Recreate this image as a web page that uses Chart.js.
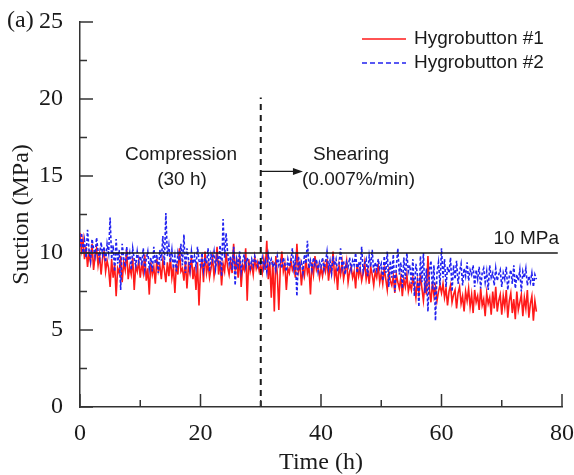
<!DOCTYPE html>
<html>
<head>
<meta charset="utf-8">
<script src="https://cdn.jsdelivr.net/npm/chart.js@4/dist/chart.umd.min.js"></script>
<style>
  html, body { margin: 0; padding: 0; background: #fff; }
  #wrap { width: 574px; height: 475px; }
</style>
</head>
<body>
<div id="wrap"><canvas id="chart" width="574" height="475"></canvas></div>
<script>
// sampling interval of the logged readings (h)
const timeStep = 0.25;

// Hygrobutton #1 suction (MPa), every 0.25 h from 0 h (one line = 5 h)
const hygro1 = [
    11.3, 10.2, 10.9, 9.6, 10.4, 9.1, 10.0, 9.4, 10.6, 8.9, 9.8, 10.3, 9.2, 9.9, 8.6, 9.7, 10.1, 8.8, 9.5, 9.0,
    7.8, 9.6, 8.4, 9.3, 7.2, 9.0, 8.7, 9.8, 8.1, 9.4, 8.9, 10.2, 8.3, 9.1, 8.6, 9.7, 7.6, 9.2, 8.8, 9.5,
    8.4, 9.3, 8.7, 9.9, 8.2, 9.0, 7.3, 9.4, 8.6, 9.1, 8.0, 9.6, 8.8, 9.2, 8.3, 9.5, 8.9, 8.1, 9.4, 8.5,
    9.7, 8.4, 9.1, 7.4, 9.3, 8.6, 10.3, 8.8, 9.0, 8.2, 9.5, 7.7, 9.2, 8.7, 9.8, 8.3, 9.1, 7.6, 9.4, 6.6,
    8.9, 9.6, 8.1, 10.1, 8.7, 9.3, 8.4, 9.0, 9.7, 8.5, 9.2, 10.4, 8.6, 9.5, 7.9, 9.3, 8.8, 10.0, 9.1, 8.6,
    9.4, 8.7, 10.6, 8.9, 9.5, 8.4, 9.8, 7.8, 9.2, 8.9, 10.3, 6.9, 9.6, 8.8, 9.3, 8.6, 9.7, 9.0, 9.4, 8.8,
    9.2, 8.7, 9.6, 8.9, 10.8, 8.3, 9.4, 7.1, 9.5, 6.2, 9.8, 8.6, 6.3, 9.1, 10.1, 8.8, 9.3, 7.6, 9.0, 8.7,
    9.5, 8.9, 9.2, 8.4, 10.6, 8.8, 9.3, 7.9, 9.0, 8.5, 9.6, 8.7, 9.1, 7.3, 9.4, 8.6, 9.8, 8.9, 9.2, 8.4,
    9.0, 8.5, 9.3, 8.8, 9.6, 8.2, 9.1, 8.7, 10.1, 8.4, 9.0, 7.6, 9.2, 8.6, 9.4, 8.3, 8.9, 9.5, 8.1, 8.8,
    9.1, 8.4, 8.8, 7.7, 9.3, 8.5, 9.0, 8.2, 8.7, 9.4, 8.3, 8.9, 8.0, 9.1, 8.6, 7.9, 8.8, 8.4, 9.2, 8.1,
    8.7, 8.0, 9.0, 8.3, 7.6, 8.8, 8.2, 7.9, 8.5, 7.4, 8.6, 8.1, 7.7, 8.4, 7.2, 8.3, 7.8, 8.6, 7.5, 8.0,
    7.6, 8.4, 7.9, 7.1, 8.2, 7.4, 8.6, 7.7, 6.9, 8.0, 7.3, 9.8, 7.6, 6.8, 8.1, 7.2, 7.8, 6.9, 7.5, 7.9,
    7.4, 8.0, 7.1, 7.7, 6.6, 7.5, 7.9, 6.8, 7.3, 7.6, 6.4, 7.4, 7.8, 6.7, 7.2, 6.2, 7.5, 6.9, 7.7, 6.5,
    7.3, 6.1, 7.6, 6.8, 7.2, 6.3, 7.7, 6.6, 7.0, 5.9, 7.4, 6.7, 7.1, 6.0, 7.5, 6.4, 7.8, 6.2, 6.9, 7.3,
    6.0, 7.2, 6.5, 7.6, 5.8, 6.9, 7.4, 6.1, 7.0, 5.7, 7.5, 6.3, 6.8, 7.3, 5.9, 7.1, 6.4, 7.6, 5.8, 6.7,
    7.2, 5.6, 6.9, 6.2
];

// Hygrobutton #2 suction (MPa), every 0.25 h from 0 h (one line = 5 h)
const hygro2 = [
    10.4, 11.3, 10.0, 10.8, 9.7, 11.5, 10.2, 9.5, 10.9, 10.3, 9.8, 11.0, 10.1, 9.6, 10.7, 9.9, 10.4, 9.4, 10.6, 10.0,
    12.3, 9.6, 10.5, 8.8, 10.9, 9.3, 10.2, 7.6, 10.6, 9.7, 9.1, 10.4, 9.5, 10.0, 8.9, 10.3, 9.6, 9.2, 10.1, 9.4,
    9.8, 9.2, 10.3, 8.9, 9.6, 10.1, 9.0, 9.7, 8.8, 10.4, 9.3, 9.9, 8.7, 10.2, 9.5, 11.1, 9.2, 12.6, 9.8, 10.5,
    9.4, 10.2, 9.0, 9.8, 8.8, 10.0, 9.5, 10.6, 9.2, 11.2, 8.7, 10.3, 9.6, 8.9, 10.1, 9.3, 9.8, 9.1, 10.4, 9.5,
    9.2, 10.0, 8.9, 9.7, 9.3, 10.3, 8.8, 9.9, 9.5, 10.1, 9.0, 9.8, 9.4, 10.5, 8.5, 12.2, 9.7, 11.3, 10.0, 9.3,
    9.8, 8.9, 10.4, 7.9, 9.6, 9.2, 10.1, 8.8, 9.5, 9.9, 9.1, 9.7, 9.3, 9.0, 9.6, 9.2, 9.8, 9.4, 9.1, 9.5,
    9.2, 9.7, 9.0, 9.5, 8.8, 9.9, 9.3, 9.6, 9.1, 9.4, 8.9, 9.8, 9.2, 9.5, 9.0, 9.7, 9.3, 8.8, 9.6, 9.1,
    9.4, 10.3, 9.0, 9.6, 7.2, 9.8, 9.1, 9.4, 8.7, 9.9, 9.3, 10.8, 9.0, 9.5, 8.9, 9.7, 9.2, 9.6, 8.8, 9.4,
    9.1, 9.7, 8.9, 9.4, 10.1, 9.0, 9.5, 8.7, 9.8, 9.2, 9.6, 8.8, 9.3, 10.3, 9.0, 9.5, 8.6, 9.4, 9.1, 9.7,
    8.9, 9.5, 9.2, 10.0, 8.7, 9.4, 9.0, 10.4, 8.8, 9.3, 9.6, 8.5, 9.8, 9.1, 10.2, 8.7, 9.4, 8.9, 9.6, 9.0,
    9.3, 8.2, 9.8, 8.7, 10.1, 7.8, 9.5, 8.4, 9.9, 7.5, 9.1, 10.3, 8.6, 9.4, 7.7, 9.7, 8.3, 10.0, 8.8, 9.2,
    8.0, 9.6, 7.2, 9.3, 8.6, 6.5, 9.8, 8.1, 10.0, 7.4, 9.0, 6.2, 8.9, 9.5, 7.6, 9.2, 5.6, 8.7, 9.4, 7.9,
    10.3, 8.4, 9.6, 7.8, 9.1, 8.7, 9.7, 7.5, 9.2, 8.3, 9.5, 8.0, 8.8, 9.3, 7.9, 9.0, 8.5, 9.4, 8.2, 8.9,
    8.6, 9.2, 7.8, 8.9, 8.3, 9.1, 7.7, 8.7, 9.0, 8.1, 8.8, 7.6, 9.2, 8.4, 8.7, 7.9, 9.0, 8.2, 8.6, 8.9,
    7.8, 8.7, 8.3, 9.1, 7.6, 8.5, 8.9, 8.0, 9.2, 7.7, 8.6, 8.2, 8.9, 7.5, 8.8, 8.4, 9.0, 7.9, 8.5, 8.1,
    8.7, 7.8, 8.6, 8.3
];

// reference level and stage boundary
const refLevel = 10;           // MPa
const refLineEnd = 79.3;       // h
const stageChange = 30;        // h
const stageLineTop = 20.1;     // MPa
const arrowEnd = 37;           // h
const arrowLevel = 15.3;       // MPa

const xTicksMajor = [0, 20, 40, 60, 80];
const xTicksMinor = [10, 30, 50, 70];
const yTicksMajor = [0, 5, 10, 15, 20, 25];
const yTicksMinor = [2.5, 7.5, 12.5, 17.5, 22.5];

const toPoints = arr => arr.map((v, i) => ({ x: i * timeStep, y: v }));

const SERIF = '"Liberation Serif", "Times New Roman", serif';
const SANS = '"Liberation Sans", Arial, sans-serif';
const INK = '#1a1a1a';

const decorPlugin = {
    id: 'decor',
    afterDraw(chart) {
        const ctx = chart.ctx;
        const xs = chart.scales.x;
        const ys = chart.scales.y;
        const x0 = xs.getPixelForValue(0);
        const y0 = ys.getPixelForValue(0);
        ctx.save();
        ctx.strokeStyle = '#333';
        ctx.lineWidth = 1.5;
        // inward ticks
        ctx.beginPath();
        xTicksMajor.forEach(v => { const p = xs.getPixelForValue(v); ctx.moveTo(p, y0); ctx.lineTo(p, y0 - 13); });
        xTicksMinor.forEach(v => { const p = xs.getPixelForValue(v); ctx.moveTo(p, y0); ctx.lineTo(p, y0 - 7); });
        yTicksMajor.forEach(v => { const p = ys.getPixelForValue(v); ctx.moveTo(x0, p); ctx.lineTo(x0 + 13, p); });
        yTicksMinor.forEach(v => { const p = ys.getPixelForValue(v); ctx.moveTo(x0, p); ctx.lineTo(x0 + 7, p); });
        ctx.stroke();

        // arrow for shearing stage
        const ax0 = xs.getPixelForValue(stageChange);
        const ax1 = xs.getPixelForValue(arrowEnd);
        const ay = ys.getPixelForValue(arrowLevel);
        ctx.strokeStyle = INK;
        ctx.lineWidth = 1.3;
        ctx.beginPath();
        ctx.moveTo(ax0, ay);
        ctx.lineTo(ax1 - 8, ay);
        ctx.stroke();
        ctx.fillStyle = INK;
        ctx.beginPath();
        ctx.moveTo(ax1, ay);
        ctx.lineTo(ax1 - 10, ay - 3.5);
        ctx.lineTo(ax1 - 10, ay + 3.5);
        ctx.closePath();
        ctx.fill();

        // texts
        ctx.fillStyle = INK;
        ctx.textBaseline = 'middle';
        ctx.font = '19px ' + SANS;
        ctx.textAlign = 'center';
        ctx.fillText('Compression', 181, 155);
        ctx.fillText('(30 h)', 182, 180);
        ctx.textAlign = 'left';
        ctx.fillText('Shearing', 313, 155);
        ctx.fillText('(0.007%/min)', 302, 180);
        ctx.textAlign = 'right';
        ctx.fillText('10 MPa', 559, 239);

        // legend
        ctx.textAlign = 'left';
        ctx.fillText('Hygrobutton #1', 414, 39);
        ctx.fillText('Hygrobutton #2', 414, 63);
        ctx.lineWidth = 1.5;
        ctx.strokeStyle = '#ff1a1a';
        ctx.beginPath(); ctx.moveTo(362, 39); ctx.lineTo(406, 39); ctx.stroke();
        ctx.strokeStyle = '#2222f0';
        ctx.setLineDash([5, 3]);
        ctx.beginPath(); ctx.moveTo(362, 63); ctx.lineTo(406, 63); ctx.stroke();
        ctx.setLineDash([]);

        // panel label
        ctx.font = '24px ' + SERIF;
        ctx.textAlign = 'left';
        ctx.fillText('(a)', 7, 21);
        ctx.restore();
    }
};

new Chart(document.getElementById('chart'), {
    type: 'line',
    data: {
        datasets: [
            {
                label: '10 MPa',
                data: [{ x: 0, y: refLevel }, { x: refLineEnd, y: refLevel }],
                borderColor: '#1a1a1a',
                borderWidth: 1.5,
                pointRadius: 0
            },
            {
                label: 'Stage change',
                data: [{ x: stageChange, y: 0 }, { x: stageChange, y: stageLineTop }],
                borderColor: '#1a1a1a',
                borderWidth: 2,
                borderDash: [6, 5],
                pointRadius: 0
            },
            {
                label: 'Hygrobutton #2',
                data: toPoints(hygro2),
                borderColor: '#2222f0',
                borderWidth: 1.6,
                borderDash: [3, 2],
                pointRadius: 0,
                tension: 0
            },
            {
                label: 'Hygrobutton #1',
                data: toPoints(hygro1),
                borderColor: '#ff1a1a',
                borderWidth: 1.6,
                pointRadius: 0,
                tension: 0
            }
        ]
    },
    options: {
        responsive: false,
        animation: false,
        layout: { padding: { top: 22, right: 12, left: 0, bottom: 0 } },
        plugins: {
            legend: { display: false },
            tooltip: { enabled: false }
        },
        scales: {
            x: {
                type: 'linear',
                min: 0,
                max: 80,
                afterFit: s => { s.height = 68; s.paddingLeft = 0; s.paddingRight = 0; },
                grid: { display: false, drawTicks: false },
                border: { display: true, color: '#333', width: 1.5 },
                ticks: {
                    stepSize: 20,
                    padding: 12,
                    color: INK,
                    font: { family: SERIF, size: 24 },
                    maxRotation: 0
                },
                title: {
                    display: true,
                    text: 'Time (h)',
                    color: INK,
                    font: { family: SERIF, size: 24, lineHeight: 1 },
                    padding: { top: 0, bottom: 0 }
                }
            },
            y: {
                min: 0,
                max: 25,
                afterFit: s => { s.width = 80; s.paddingTop = 0; s.paddingBottom = 0; },
                grid: { display: false, drawTicks: false },
                border: { display: true, color: '#333', width: 1.5 },
                ticks: {
                    stepSize: 5,
                    padding: 17,
                    color: INK,
                    font: { family: SERIF, size: 24 }
                },
                title: {
                    display: true,
                    text: 'Suction (MPa)',
                    color: INK,
                    font: { family: SERIF, size: 24, lineHeight: 1 },
                    padding: { top: 10, bottom: 0 }
                }
            }
        }
    },
    plugins: [decorPlugin]
});
</script>
</body>
</html>
